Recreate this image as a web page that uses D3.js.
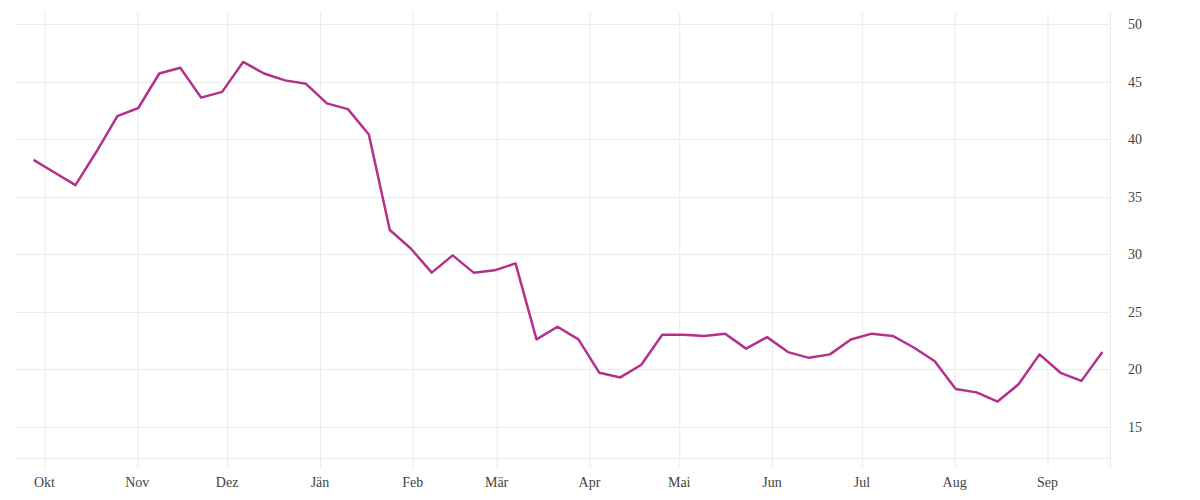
<!DOCTYPE html>
<html><head><meta charset="utf-8">
<script src="https://cdn.jsdelivr.net/npm/d3@7"></script>
<style>
html,body{margin:0;padding:0;background:#fff;}
svg{display:block;}
.tick text{font-family:"Liberation Serif","DejaVu Serif",serif;font-size:14px;fill:#444;}
</style></head>
<body>
<svg id="chart" width="1200" height="500"></svg>
<script>
const dates = ["2022-09-27","2022-10-04","2022-10-11","2022-10-18","2022-10-25","2022-11-01","2022-11-08","2022-11-15","2022-11-22","2022-11-29","2022-12-06","2022-12-13","2022-12-20","2022-12-27","2023-01-03","2023-01-10","2023-01-17","2023-01-24","2023-01-31","2023-02-07","2023-02-14","2023-02-21","2023-02-28","2023-03-07","2023-03-14","2023-03-21","2023-03-28","2023-04-04","2023-04-11","2023-04-18","2023-04-25","2023-05-02","2023-05-09","2023-05-16","2023-05-23","2023-05-30","2023-06-06","2023-06-13","2023-06-20","2023-06-27","2023-07-04","2023-07-11","2023-07-18","2023-07-25","2023-08-01","2023-08-08","2023-08-15","2023-08-22","2023-08-29","2023-09-05","2023-09-12","2023-09-19"];
const values = [38.2,37.1,36.0,38.9,42.0,42.7,45.7,46.2,43.6,44.1,46.7,45.7,45.1,44.8,43.1,42.6,40.4,32.1,30.5,28.4,29.9,28.4,28.6,29.2,22.6,23.7,22.6,19.7,19.3,20.4,23.0,23.0,22.9,23.1,21.8,22.8,21.5,21.0,21.3,22.6,23.1,22.9,21.9,20.7,18.3,18.0,17.2,18.7,21.3,19.7,19.0,21.5];
const monthLabels = ["Jän","Feb","Mär","Apr","Mai","Jun","Jul","Aug","Sep","Okt","Nov","Dez"];
const yTicks = [15,20,25,30,35,40,45,50];
const xDomain = ["2022-09-21T07:30","2023-09-22T01:00"];
const yDomain = [12.3, 51.04];

const parse = d3.timeParse("%Y-%m-%d");
const parseT = d3.timeParse("%Y-%m-%dT%H:%M");
const data = dates.map((d,i)=>({date: d3.timeHour.offset(parse(d),12), value: values[i]}));

const L=15, R=1110, T=12, B=458;
const svg = d3.select("#chart");
const x = d3.scaleTime().domain(xDomain.map(parseT)).range([L,R]);
const y = d3.scaleLinear().domain(yDomain).range([B,T]);

const grid = "#ebebeb";
svg.append("g").selectAll("line").data(yTicks).join("line")
  .attr("x1",L).attr("x2",R).attr("y1",d=>Math.round(y(d))+0.5).attr("y2",d=>Math.round(y(d))+0.5)
  .attr("stroke",grid).attr("stroke-width",1);
svg.append("line").attr("x1",L).attr("x2",R).attr("y1",B+0.5).attr("y2",B+0.5).attr("stroke",grid);

const months = x.ticks(d3.timeMonth.every(1));
const xAxis = d3.axisBottom(x).tickValues(months)
  .tickFormat(d=>monthLabels[d.getMonth()]).tickSize(T-B-10);
const gx = svg.append("g").attr("transform",`translate(0,${B+10})`).call(xAxis);
gx.select(".domain").remove();
gx.selectAll(".tick line").attr("stroke",grid).attr("transform","translate(0.5,0)");
gx.selectAll(".tick text").attr("y",9);

svg.append("line").attr("x1",R+0.5).attr("x2",R+0.5).attr("y1",T).attr("y2",B+10).attr("stroke",grid);

const yAxis = d3.axisRight(y).tickValues(yTicks).tickSize(0).tickPadding(18);
const gy = svg.append("g").attr("transform",`translate(${R},0)`).call(yAxis);
gy.select(".domain").remove();

const line = d3.line().x(d=>x(d.date)).y(d=>y(d.value));
svg.append("path").datum(data).attr("d",line)
  .attr("fill","none").attr("stroke","#b3318a").attr("stroke-width",2.5)
  .attr("stroke-linejoin","round");
</script>
</body></html>
